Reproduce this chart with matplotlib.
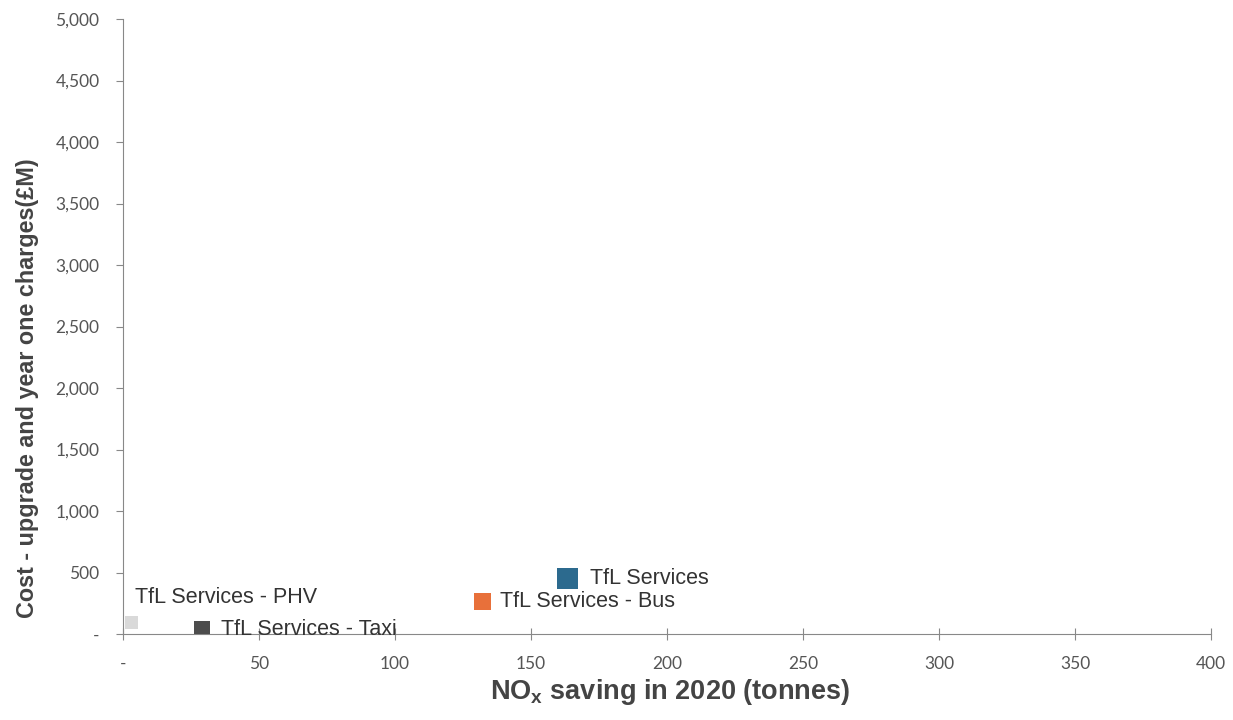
import matplotlib.pyplot as plt

names = ['TfL Services', 'TfL Services - Bus', 'TfL Services - Taxi', 'TfL Services - PHV']
nox_saving = [163.4, 132, 29, 3]
cost = [455, 268, 45, 95]
colors = ['#2c6a8e', '#e8703a', '#4d4d4d', '#d9d9d9']
sizes = [230, 150, 120, 90]

xticks = [0, 50, 100, 150, 200, 250, 300, 350, 400]
xlabels = ['-', '50', '100', '150', '200', '250', '300', '350', '400']
yticks = [0, 500, 1000, 1500, 2000, 2500, 3000, 3500, 4000, 4500, 5000]
ylabels = ['-', '500', '1,000', '1,500', '2,000', '2,500', '3,000', '3,500', '4,000', '4,500', '5,000']

plt.rcParams['font.family'] = ['Liberation Sans', 'DejaVu Sans']

fig = plt.figure(figsize=(12.33, 7.2), dpi=100)
ax = fig.add_axes([0.0998, 0.1194, 0.8824, 0.8542])

for n, x, y, c, s in zip(names, nox_saving, cost, colors, sizes):
    ax.scatter(x, y, s=s, marker='s', color=c, edgecolors='none', zorder=3)

# label offsets (points)
offsets = {'TfL Services': (16, 0), 'TfL Services - Bus': (13, 0),
           'TfL Services - Taxi': (14, -1), 'TfL Services - PHV': (3, 18)}
for n, x, y in zip(names, nox_saving, cost):
    ax.annotate(n, (x, y), xytext=offsets[n], textcoords='offset points',
                fontsize=15.5, color='#333333', va='center', ha='left')

ax.set_xlim(0, 400)
ax.set_ylim(0, 5000)
ax.set_xticks(xticks)
ax.set_xticklabels(xlabels, fontsize=12.5, color='#555555', family=['Lato', 'DejaVu Sans'])
ax.set_yticks(yticks)
ax.set_yticklabels(ylabels, fontsize=12.5, color='#555555', family=['Lato', 'DejaVu Sans'])
ax.tick_params(axis='y', color='#888888', length=5, pad=12)
ax.tick_params(axis='x', color='#888888', length=8, direction='inout', pad=12)

for side in ['top', 'right']:
    ax.spines[side].set_visible(False)
for side in ['left', 'bottom']:
    ax.spines[side].set_color('#888888')

ax.set_xlabel('NO$_\\mathregular{x}$ saving in 2020 (tonnes)', fontsize=19.5, fontweight='bold',
              color='#444444', va='center')
ax.xaxis.set_label_coords(0.503, -0.095)
ax.set_ylabel('Cost - upgrade and year one charges(£M)', fontsize=16.8, fontweight='bold',
              color='#444444', va='center')
ax.yaxis.set_label_coords(-0.088, 0.40)

fig.savefig('out.png', dpi=100)
